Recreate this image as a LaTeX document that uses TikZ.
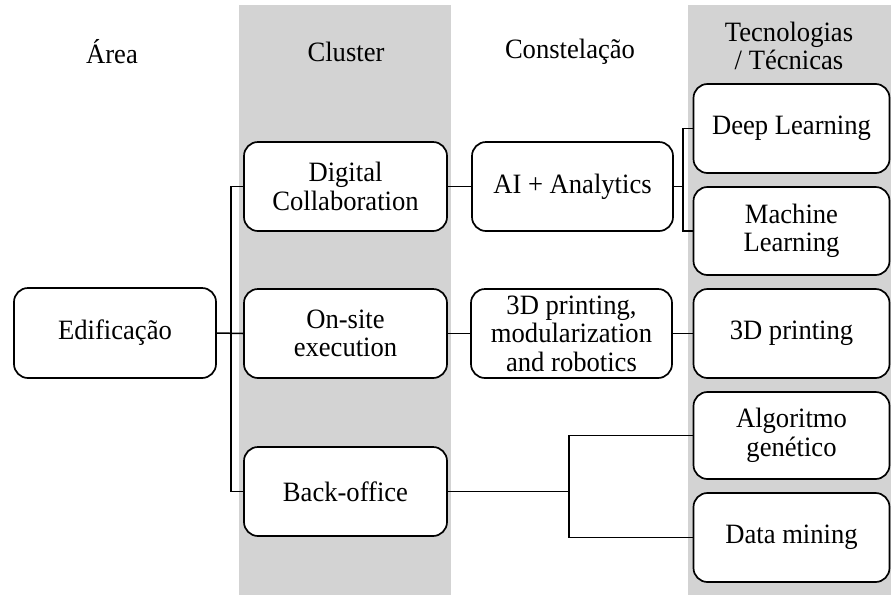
\documentclass[tikz,border=0pt]{standalone}
\usepackage{fontspec}
\setmainfont[FakeStretch=0.95]{Liberation Serif}
\definecolor{bandgray}{RGB}{211,211,211}
\tikzset{
  box/.style={draw=black, line width=1.7pt, fill=white, rounded corners=14pt,
    align=center, inner sep=0pt, font=\fontsize{28}{28.5}\selectfont},
  head/.style={align=center, inner sep=0pt, font=\fontsize{28}{28.5}\selectfont},
  link/.style={draw=black, line width=1.5pt}
}
\begin{document}
\begin{tikzpicture}[x=1pt,y=-1pt]
\useasboundingbox (0,0) rectangle (891,595);
\fill[bandgray] (239,5) rectangle (451,595);
\fill[bandgray] (688,5) rectangle (891,595);

\node[head] (hA) at (112,52) {Área};
\node[head] (hC) at (346,52) {Cluster};
\node[head] (hK) at (570,52) {Constelação};
\node[head] (hT) at (789,46) {Tecnologias\\/ Técnicas};

\node[box, minimum width=202pt, minimum height=90pt] (edif) at (115,333) {Edificação};
\node[box, minimum width=203pt, minimum height=89pt] (dc) at (345.5,186.5) {Digital\\Collaboration};
\node[box, minimum width=203pt, minimum height=89pt] (os) at (345.5,333.5) {On-site\\execution};
\node[box, minimum width=203pt, minimum height=89pt] (bo) at (345.5,491.5) {Back-office};
\node[box, minimum width=201pt, minimum height=89pt] (ai) at (572.5,186.5) {AI + Analytics};
\node[box, minimum width=201pt, minimum height=89pt] (tdp) at (571.5,333.5) {3D printing,\\modularization\\and robotics};
\node[box, minimum width=196pt, minimum height=89pt] (dl) at (791.5,128.5) {Deep Learning};
\node[box, minimum width=196pt, minimum height=88pt] (ml) at (791.5,231) {Machine\\Learning};
\node[box, minimum width=196pt, minimum height=89pt] (p3) at (791.5,333.5) {3D printing};
\node[box, minimum width=196pt, minimum height=87pt] (ag) at (791.5,435.5) {Algoritmo\\genético};
\node[box, minimum width=196pt, minimum height=89pt] (dm) at (791.5,537.5) {Data mining};

\coordinate (bus) at (231,333.5);
\coordinate (s1) at (683,186.5);
\coordinate (s2) at (569,491.5);

\draw[link] (edif.east) -- (os.west);
\draw[link] (dc.west) -| (bus) |- (bo.west);
\draw[link] (dc.east) -- (ai.west);
\draw[link] (ai.east) -- (s1);
\draw[link] (dl.west) -| (s1) |- (ml.west);
\draw[link] (os.east) -- (tdp.west);
\draw[link] (tdp.east) -- (p3.west);
\draw[link] (bo.east) -- (s2);
\draw[link] (ag.west) -| (s2) |- (dm.west);
\end{tikzpicture}
\end{document}
